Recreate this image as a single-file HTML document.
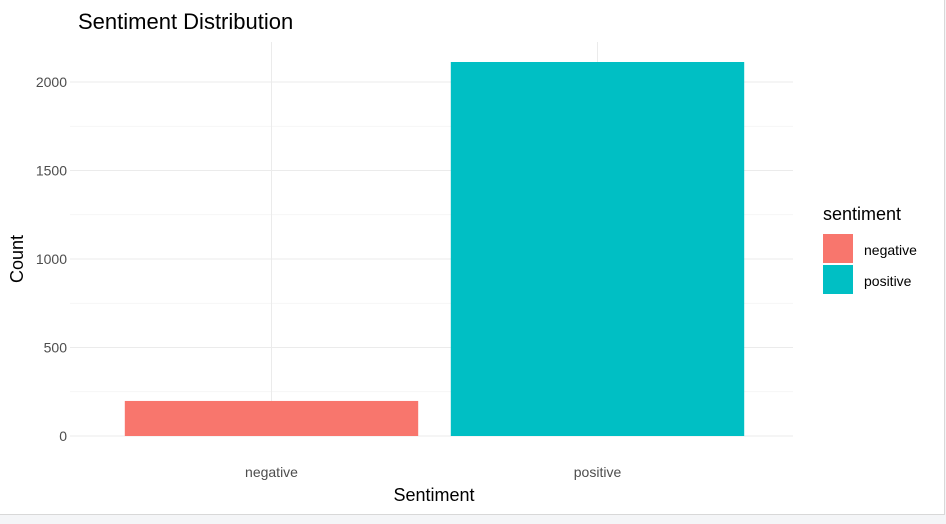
<!DOCTYPE html>
<html><head><meta charset="utf-8"><style>
body{margin:0;background:#f4f5f7;font-family:"Liberation Sans",sans-serif;}
#wrap{position:absolute;left:0;top:0;width:944px;height:514px;background:#fff;border-right:1px solid #d8d8d8;border-bottom:1px solid #d8d8d8;}
</style></head><body>
<div id="wrap">
<svg id="chart" width="944" height="514"></svg>
</div>
<script>
const categories = ["negative","positive"];
const counts = [198, 2113];
const colors = ["#F8766D","#00BFC4"];
const yTicks = [0,500,1000,1500,2000];
const yMinor = [250,750,1250,1750];

const NS="http://www.w3.org/2000/svg";
const svg=document.getElementById('chart');
const pL=70,pR=793,y0=436,pxPer=354/2000;
const y=v=>y0-v*pxPer;
const band=326;
const xc=i=>271.5+band*i;
function mk(tag,attrs,txt){const e=document.createElementNS(NS,tag);for(const k in attrs)e.setAttribute(k,attrs[k]);if(txt!==undefined)e.textContent=txt;svg.appendChild(e);return e;}

yMinor.forEach(v=>{const l=mk('line',{x1:pL,x2:pR,y1:y(v),y2:y(v),stroke:'#f2f2f2','stroke-width':0.8});

});
yTicks.forEach(v=>{const l=mk('line',{x1:pL,x2:pR,y1:y(v),y2:y(v),stroke:'#ebebeb','stroke-width':1});


const t=mk('text',{x:67,y:y(v)+5,'text-anchor':'end','font-size':14,fill:'#4d4d4d'},String(v));

});
categories.forEach((c,i)=>{const l=mk('line',{x1:xc(i),x2:xc(i),y1:42,y2:y0,stroke:'#ebebeb','stroke-width':1});

});
categories.forEach((c,i)=>{const w=band*0.9;
const r=mk('rect',{x:xc(i)-w/2,y:y(counts[i]),width:w,height:y0-y(counts[i]),fill:colors[i]});


const t=mk('text',{x:xc(i),y:477,'text-anchor':'middle','font-size':14,fill:'#4d4d4d'},c);

});
let e;
e=mk('text',{x:78,y:29,'font-size':22,fill:'#000'},'Sentiment Distribution');


e=mk('text',{x:434,y:501,'text-anchor':'middle','font-size':18,fill:'#000'},'Sentiment');


e=mk('text',{x:23,y:259,'text-anchor':'middle','font-size':18,fill:'#000',transform:'rotate(-90 23 259)'},'Count');


e=mk('text',{x:823,y:220,'font-size':18,fill:'#000'},'sentiment');


categories.forEach((c,i)=>{const r=mk('rect',{x:823,y:234+i*31,width:30,height:29,fill:colors[i]});


const t=mk('text',{x:864,y:255+i*31,'font-size':14,fill:'#000'},c);

});
</script>
</body></html>
